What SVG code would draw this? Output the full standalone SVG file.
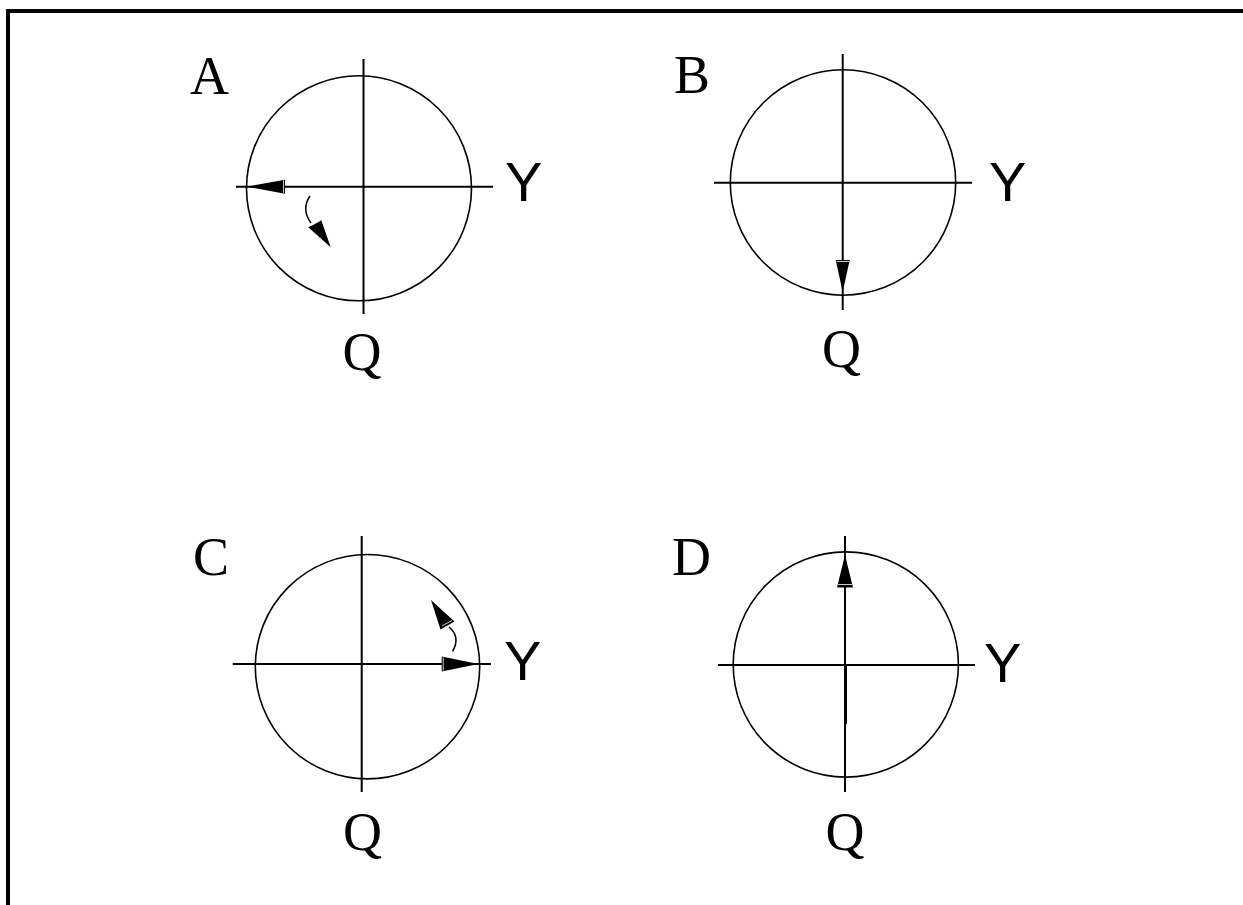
<svg xmlns="http://www.w3.org/2000/svg" width="1243" height="905" viewBox="0 0 1243 905">
<style>
.ax{stroke:#000;stroke-width:2;fill:none}
.ci{stroke:#000;stroke-width:1.6;fill:none}
.ah{fill:#000;stroke:none}
.cv{stroke:#000;stroke-width:1.5;fill:none}
.lbl{font-family:"Liberation Serif","Times New Roman",serif;font-size:54px;fill:#000}
.y{font-family:"Liberation Sans",Arial,sans-serif;font-size:56px;fill:#000}
</style>
<rect width="1243" height="905" fill="#fff"/>
<g id="frame">
<line x1="8" y1="11" x2="1243" y2="11" stroke="#000" stroke-width="4"/>
<line x1="8" y1="9" x2="8" y2="905" stroke="#000" stroke-width="4"/>
</g>
<g id="panel-A">
<circle class="ci" cx="359" cy="188.3" r="112.5"/>
<line class="ax" x1="363.5" y1="59" x2="363.5" y2="314"/>
<line class="ax" x1="236" y1="186.7" x2="493" y2="186.7"/>
<text class="lbl" x="190" y="94">A</text>
<text class="y" x="505" y="200.7">Y</text>
<text class="lbl" x="362" y="369.5" text-anchor="middle">Q</text>
</g>
<g id="panel-B">
<circle class="ci" cx="843" cy="182.5" r="112.7"/>
<line class="ax" x1="842.7" y1="54" x2="842.7" y2="310"/>
<line class="ax" x1="714" y1="182.7" x2="972" y2="182.7"/>
<text class="lbl" x="674" y="92.7">B</text>
<text class="y" x="989" y="200.7">Y</text>
<text class="lbl" x="841.5" y="366.5" text-anchor="middle">Q</text>
</g>
<g id="panel-C">
<circle class="ci" cx="367.5" cy="666.7" r="112.2"/>
<line class="ax" x1="361.7" y1="536" x2="361.7" y2="792"/>
<line class="ax" x1="232.7" y1="664" x2="491" y2="664"/>
<text class="lbl" x="193" y="574.5">C</text>
<text class="y" x="504" y="680">Y</text>
<text class="lbl" x="362.5" y="849.5" text-anchor="middle">Q</text>
</g>
<g id="panel-D">
<circle class="ci" cx="845.8" cy="664.5" r="112.6"/>
<line class="ax" x1="845" y1="536" x2="845" y2="792"/>
<line class="ax" x1="718" y1="665" x2="975" y2="665"/>
<text class="lbl" x="672" y="575">D</text>
<text class="y" x="984" y="681.7">Y</text>
<text class="lbl" x="845" y="849.5" text-anchor="middle">Q</text>
</g>
<g id="connectors">
<!-- A: horizontal vector pointing left -->
<polygon class="ah" points="246.7,186.7 285,179.7 285,193.7"/>
<line x1="283.5" y1="180.5" x2="283.5" y2="192.9" stroke="#fff" stroke-width="0.8"/>
<!-- A: rotation arrow -->
<path class="cv" d="M310,196 Q301,209 311,223"/>
<polygon class="ah" points="330.7,247.3 308.3,227.3 321.3,220.3"/>
<line x1="311" y1="225.6" x2="319.5" y2="221" stroke="#fff" stroke-width="0.8"/>
<!-- B: vector pointing down -->
<polygon class="ah" points="842.7,292 835.7,260 849.7,260"/>
<line x1="836.5" y1="261.5" x2="848.9" y2="261.5" stroke="#fff" stroke-width="0.8"/>
<!-- C: vector pointing right -->
<polygon class="ah" points="478.3,664 441.7,656.5 441.7,671.5"/>
<line x1="443.2" y1="657.3" x2="443.2" y2="670.7" stroke="#fff" stroke-width="0.8"/>
<!-- C: rotation arrow -->
<path class="cv" d="M452.5,651.5 Q461,637 449,627"/>
<polygon class="ah" points="431,600 440.5,629.5 454.5,621.5"/>
<line x1="442" y1="626" x2="452" y2="620.5" stroke="#fff" stroke-width="0.8"/>
<!-- D: vector pointing up -->
<polygon class="ah" points="845,555 837,587.5 853,587.5"/>
<line x1="838" y1="584.5" x2="852" y2="584.5" stroke="#fff" stroke-width="0.8"/>
<line x1="846" y1="664" x2="846" y2="724" stroke="#000" stroke-width="2"/>
</g>
</svg>
